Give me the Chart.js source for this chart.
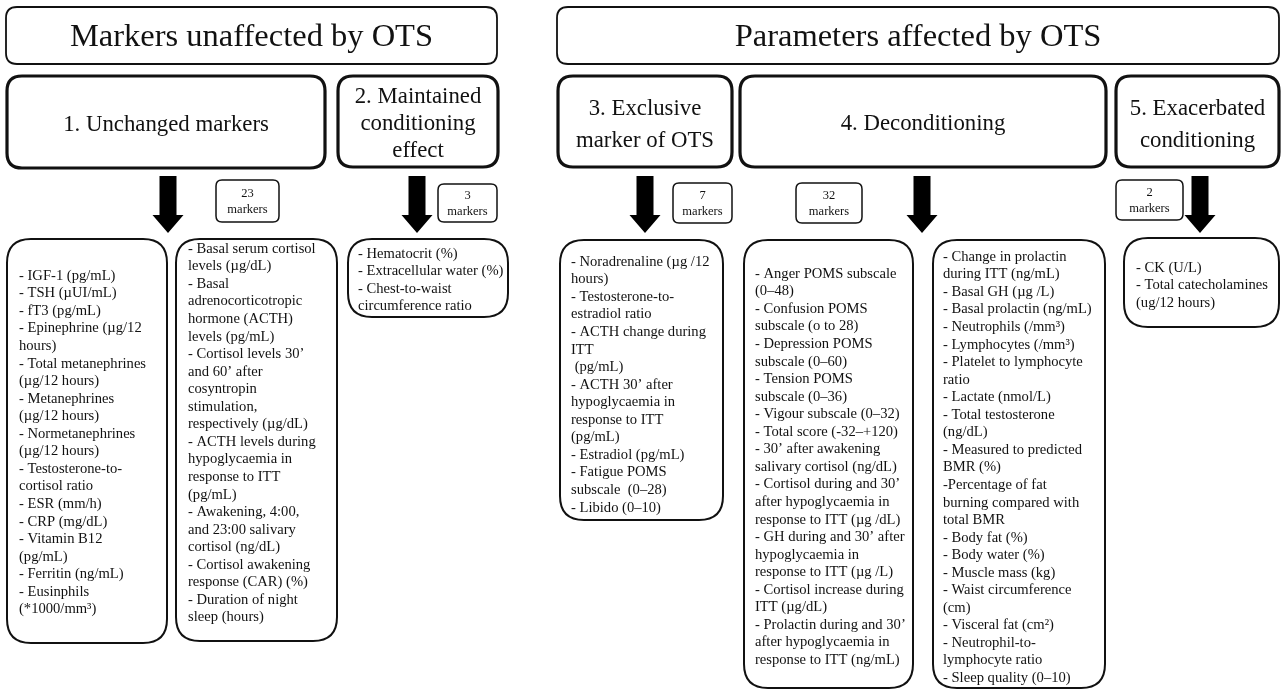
<!DOCTYPE html>
<html><head><meta charset="utf-8">
<script src="https://cdn.jsdelivr.net/npm/chart.js@4.4.1/dist/chart.umd.min.js"></script>
<style>html,body{margin:0;padding:0;background:#fff;overflow:hidden}#wrap{width:1282px;height:692px;position:relative}</style>
</head><body><div id="wrap"><canvas id="c"></canvas></div>
<script>
// ---------- data ----------
const sectionTitles = ["Markers unaffected by OTS", "Parameters affected by OTS"];
const groupTitles = [
  ["1. Unchanged markers"],
  ["2. Maintained", "conditioning", "effect"],
  ["3. Exclusive", "marker of OTS"],
  ["4. Deconditioning"],
  ["5. Exacerbated", "conditioning"]
];
const markerCounts = [23, 3, 7, 32, 2];
const countUnit = "markers";
const listUnchangedA = ["- IGF-1 (pg/mL)","- TSH (\u00b5UI/mL)","- fT3 (pg/mL)","- Epinephrine (\u00b5g/12","hours)","- Total metanephrines","(\u00b5g/12 hours)","- Metanephrines","(\u00b5g/12 hours)","- Normetanephrines","(\u00b5g/12 hours)","- Testosterone-to-","cortisol ratio","- ESR (mm/h)","- CRP (mg/dL)","- Vitamin B12","(pg/mL)","- Ferritin (ng/mL)","- Eusinphils","(*1000/mm\u00b3)"];
const listUnchangedB = ["- Basal serum cortisol","levels (\u00b5g/dL)","- Basal","adrenocorticotropic","hormone (ACTH)","levels (pg/mL)","- Cortisol levels 30\u2019","and 60\u2019 after","cosyntropin","stimulation,","respectively (\u00b5g/dL)","- ACTH levels during","hypoglycaemia in","response to ITT","(pg/mL)","- Awakening, 4:00,","and 23:00 salivary","cortisol (ng/dL)","- Cortisol awakening","response (CAR) (%)","- Duration of night","sleep (hours)"];
const listMaintained = ["- Hematocrit (%)","- Extracellular water (%)","- Chest-to-waist","circumference ratio"];
const listExclusive = ["- Noradrenaline (\u00b5g /12","hours)","- Testosterone-to-","estradiol ratio","- ACTH change during","ITT"," (pg/mL)","- ACTH 30\u2019 after","hypoglycaemia in","response to ITT","(pg/mL)","- Estradiol (pg/mL)","- Fatigue POMS","subscale  (0\u201328)","- Libido (0\u201310)"];
const listDeconditioningA = ["- Anger POMS subscale","(0\u201348)","- Confusion POMS","subscale (o to 28)","- Depression POMS","subscale (0\u201360)","- Tension POMS","subscale (0\u201336)","- Vigour subscale (0\u201332)","- Total score (-32\u2013+120)","- 30\u2019 after awakening","salivary cortisol (ng/dL)","- Cortisol during and 30\u2019","after hypoglycaemia in","response to ITT (\u00b5g /dL)","- GH during and 30\u2019 after","hypoglycaemia in","response to ITT (\u00b5g /L)","- Cortisol increase during","ITT (\u00b5g/dL)","- Prolactin during and 30\u2019","after hypoglycaemia in","response to ITT (ng/mL)"];
const listDeconditioningB = ["- Change in prolactin","during ITT (ng/mL)","- Basal GH (\u00b5g /L)","- Basal prolactin (ng/mL)","- Neutrophils (/mm\u00b3)","- Lymphocytes (/mm\u00b3)","- Platelet to lymphocyte","ratio","- Lactate (nmol/L)","- Total testosterone","(ng/dL)","- Measured to predicted","BMR (%)","-Percentage of fat","burning compared with","total BMR","- Body fat (%)","- Body water (%)","- Muscle mass (kg)","- Waist circumference","(cm)","- Visceral fat (cm\u00b2)","- Neutrophil-to-","lymphocyte ratio","- Sleep quality (0\u201310)"];
const listExacerbated = ["- CK (U/L)","- Total catecholamines","(ug/12 hours)"];

// ---------- layout (positions / styles) ----------
const FONT = '"Liberation Serif", "Times New Roman", serif';
const layout = {
  sections: [{x1:6,y1:7,x2:497,y2:64},{x1:557,y1:7,x2:1279,y2:64}],
  groups: [
    {x1:7,y1:76,x2:325,y2:168,cy:125,lh:27},
    {x1:338,y1:76,x2:498,y2:167,cy:124,lh:27},
    {x1:558,y1:76,x2:732,y2:167,cy:125,lh:32},
    {x1:740,y1:76,x2:1106,y2:167,cy:124,lh:27},
    {x1:1116,y1:76,x2:1279,y2:167,cy:125,lh:32}
  ],
  arrows: [168,417,645,922,1200],
  badges: [
    {x1:216,y1:180,x2:279,y2:222},
    {x1:438,y1:184,x2:497,y2:222},
    {x1:673,y1:183,x2:732,y2:223},
    {x1:796,y1:183,x2:862,y2:223},
    {x1:1116,y1:180,x2:1183,y2:220}
  ],
  lists: [
    {items:listUnchangedA,x1:7,y1:239,x2:167,y2:643,tx:19,ty:276},
    {items:listUnchangedB,x1:176,y1:239,x2:337,y2:641,tx:188,ty:249},
    {items:listMaintained,x1:348,y1:239,x2:508,y2:317,tx:358,ty:254},
    {items:listExclusive,x1:560,y1:240,x2:723,y2:520,tx:571,ty:262},
    {items:listDeconditioningA,x1:744,y1:240,x2:913,y2:688,tx:755,ty:274},
    {items:listDeconditioningB,x1:933,y1:240,x2:1105,y2:688,tx:943,ty:257},
    {items:listExacerbated,x1:1124,y1:238,x2:1279,y2:327,tx:1136,ty:268}
  ]
};

function rrect(ctx,x1,y1,x2,y2,r){
  ctx.beginPath();
  ctx.moveTo(x1+r,y1);
  ctx.lineTo(x2-r,y1);
  ctx.quadraticCurveTo(x2,y1,x2,y1+r);
  ctx.lineTo(x2,y2-r);
  ctx.quadraticCurveTo(x2,y2,x2-r,y2);
  ctx.lineTo(x1+r,y2);
  ctx.quadraticCurveTo(x1,y2,x1,y2-r);
  ctx.lineTo(x1,y1+r);
  ctx.quadraticCurveTo(x1,y1,x1+r,y1);
  ctx.closePath();
}

const diagramPlugin = {
  id:'diagram',
  afterDraw(chart){
    const ctx = chart.ctx;
    const X = v => chart.scales.x.getPixelForValue(v);
    const Y = v => chart.scales.y.getPixelForValue(v);
    ctx.save();
    ctx.fillStyle = '#000';
    ctx.strokeStyle = '#111';
    ctx.textBaseline = 'middle';
    // section headers
    layout.sections.forEach((b,i)=>{
      ctx.lineWidth = 1.8;
      rrect(ctx,X(b.x1),Y(b.y1),X(b.x2),Y(b.y2),11);
      ctx.stroke();
      ctx.font = '32.5px ' + FONT;
      ctx.textAlign = 'center';
      ctx.fillStyle = '#111';
      ctx.fillText(sectionTitles[i], X((b.x1+b.x2)/2), Y((b.y1+b.y2)/2+2));
    });
    // groups
    layout.groups.forEach((b,i)=>{
      ctx.lineWidth = 3.2;
      rrect(ctx,X(b.x1),Y(b.y1),X(b.x2),Y(b.y2),15);
      ctx.stroke();
      ctx.font = '22.8px ' + FONT;
      ctx.textAlign = 'center';
      const lines = groupTitles[i];
      const n = lines.length;
      lines.forEach((t,k)=>{
        ctx.fillText(t, X((b.x1+b.x2)/2), Y(b.cy + (k-(n-1)/2)*b.lh));
      });
    });
    // arrows
    layout.arrows.forEach(cx=>{
      const sw=8.5, hw=15.5, top=176, hs=215, tip=233;
      ctx.beginPath();
      ctx.moveTo(X(cx-sw),Y(top));
      ctx.lineTo(X(cx+sw),Y(top));
      ctx.lineTo(X(cx+sw),Y(hs));
      ctx.lineTo(X(cx+hw),Y(hs));
      ctx.lineTo(X(cx),Y(tip));
      ctx.lineTo(X(cx-hw),Y(hs));
      ctx.lineTo(X(cx-sw),Y(hs));
      ctx.closePath();
      ctx.fillStyle='#000';
      ctx.fill();
    });
    // badges
    layout.badges.forEach((b,i)=>{
      ctx.lineWidth = 1.5;
      rrect(ctx,X(b.x1),Y(b.y1),X(b.x2),Y(b.y2),6);
      ctx.stroke();
      ctx.font = '12.5px ' + FONT;
      ctx.textAlign = 'center';
      ctx.fillStyle = '#111';
      const cx = (b.x1+b.x2)/2, cy=(b.y1+b.y2)/2;
      ctx.fillText(String(markerCounts[i]), X(cx), Y(cy-7));
      ctx.fillText(countUnit, X(cx), Y(cy+9));
    });
    // lists
    layout.lists.forEach(b=>{
      ctx.lineWidth = 2;
      rrect(ctx,X(b.x1),Y(b.y1),X(b.x2),Y(b.y2),24);
      ctx.stroke();
      ctx.font = '14.6px ' + FONT;
      ctx.textAlign = 'left';
      ctx.fillStyle = '#111';
      b.items.forEach((t,k)=>{
        ctx.fillText(t, X(b.tx), Y(b.ty + k*17.55));
      });
    });
    ctx.restore();
  }
};

new Chart(document.getElementById('c'), {
  type: 'scatter',
  data: { datasets: [{ label: 'groups', data: [], pointRadius: 0 }] },
  options: {
    responsive: true,
    maintainAspectRatio: false,
    animation: false,
    devicePixelRatio: 1,
    layout: { padding: 0 },
    plugins: { legend: { display: false }, tooltip: { enabled: false } },
    scales: {
      x: { type: 'linear', min: 0, max: 1282, display: false },
      y: { type: 'linear', min: 0, max: 692, reverse: true, display: false }
    }
  },
  plugins: [diagramPlugin]
});
</script>
</body></html>
